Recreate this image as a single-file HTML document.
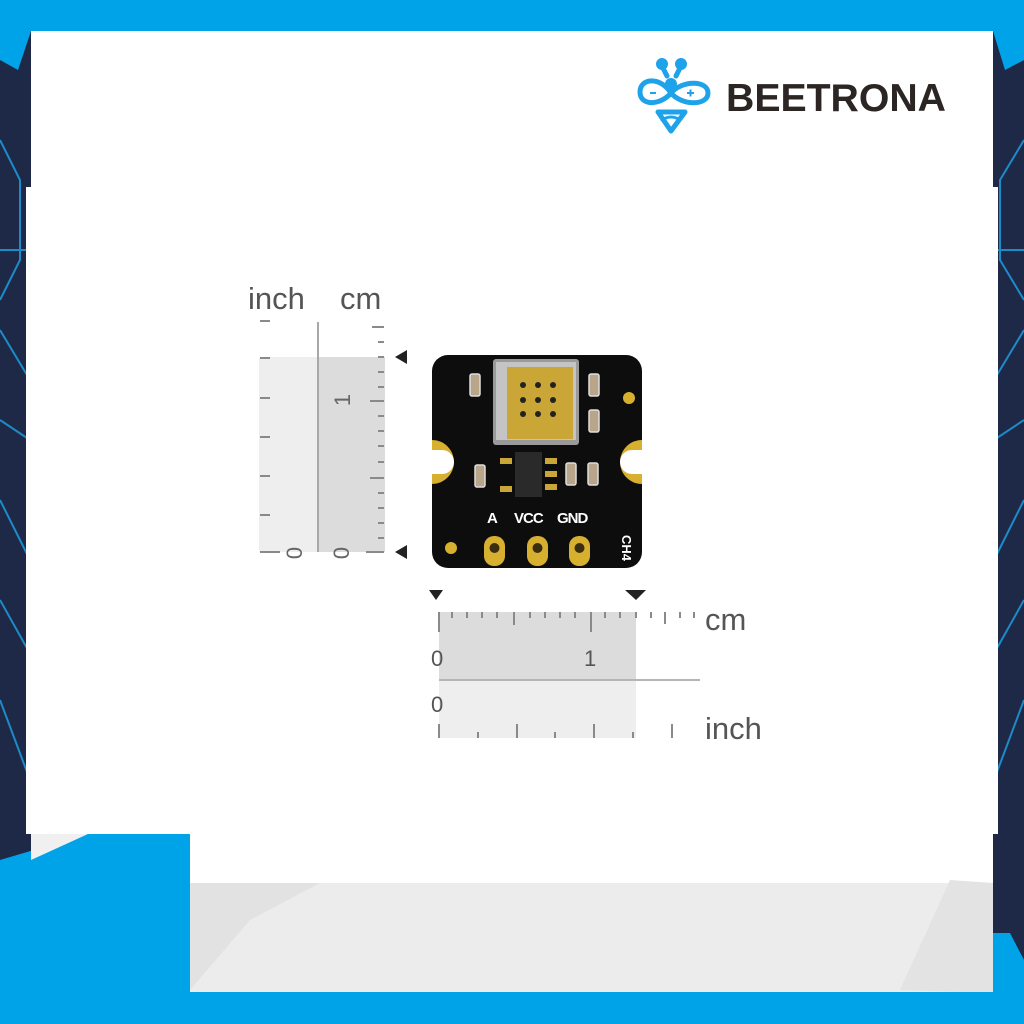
<!DOCTYPE html>
<html><head><meta charset="utf-8"><style>
html,body{margin:0;padding:0}
body{width:1024px;height:1024px;position:relative;overflow:hidden;background:#1d2946;font-family:"Liberation Sans",sans-serif}
.a{position:absolute}
</style></head><body>
<svg class="a" style="left:0;top:0" width="1024" height="1024">
 <g stroke="#1ea3ea" stroke-width="2" fill="none" opacity="0.8">
  <path d="M0 140 L20 180 L20 260 L0 300"/><path d="M0 330 L30 380 M0 420 L30 440 M0 500 L30 560 M0 600 L28 650 M0 700 L30 780 M0 250 L30 250"/>
  <path d="M1024 140 L1000 180 L1000 260 L1024 300"/><path d="M1024 330 L994 380 M1024 420 L994 440 M1024 500 L994 560 M1024 600 L996 650 M1024 700 L994 780 M994 250 L1024 250"/>
 </g>
 <rect x="0" y="0" width="1024" height="31" fill="#00a3e8"/>
 <path d="M0 0 L1024 0 L1024 60 L1005 70 L993 31 L31 31 L18 70 L0 60Z" fill="#00a3e8"/>
 <rect x="31" y="31" width="962" height="803" fill="#fff"/>
 <rect x="26" y="187" width="972" height="647" fill="#fff"/>
 <rect x="190" y="834" width="803" height="49" fill="#fff"/>
 <rect x="190" y="883" width="803" height="110" fill="#ececec"/>
 <path d="M190 883 L320 883 L250 920 L190 990Z" fill="#e2e2e2"/>
 <path d="M900 990 L950 880 L993 883 L993 993Z" fill="#e3e3e3"/>
 <path d="M0 860 L88 834 L190 834 L190 1024 L0 1024Z" fill="#00a3e8"/>
 <path d="M31 834 L88 834 L31 860Z" fill="#f0f0f0"/>
 <rect x="0" y="992" width="1024" height="32" fill="#00a3e8"/>
 <path d="M993 933 L1010 933 L1024 960 L1024 1024 L993 1024Z" fill="#00a3e8"/>

 <!-- logo -->
 <g stroke="#1ea3ea" stroke-width="5" fill="none" stroke-linecap="round">
  <circle cx="662" cy="64" r="3.5" fill="#1ea3ea"/><circle cx="681" cy="64" r="3.5" fill="#1ea3ea"/>
  <path d="M662 66 L667 76 M681 66 L676 76"/>
  <path d="M671 93 C660 76 640 78 640 92 C640 106 660 106 671 93 C682 80 708 80 708 93 C708 106 682 106 671 93" />
  <path d="M658 112 L685 112 L671 131Z" stroke-linejoin="round"/>
  <path d="M662 120 Q671 114 680 120" stroke-width="3"/>
 </g>
 <circle cx="671" cy="84" r="6" fill="#1ea3ea"/>
 <path d="M650 93 h6 M687 93 h7 M690.5 89.5 v7" stroke="#1ea3ea" stroke-width="2"/>
 <text x="726" y="111" font-size="39" font-weight="bold" fill="#2b2523" font-family="Liberation Sans" textLength="220" lengthAdjust="spacingAndGlyphs">BEETRONA</text>

 <!-- left ruler -->
 <rect x="259" y="357" width="59" height="195" fill="#eeeeee"/>
 <rect x="318" y="357" width="67" height="195" fill="#dcdcdc"/>
 <rect x="317" y="322" width="2" height="230" fill="#a8a8a8"/>
 <g stroke="#8a8a8a" stroke-width="2">
  <path d="M260 321h10 M260 358h10 M260 398h10 M260 437h10 M260 476h10 M260 515h10 M260 552h20"/>
  <path d="M372 327h12 M378 342h6 M378 357h6 M378 372h6 M378 387h6 M370 401h14 M378 416h6 M378 431h6 M378 446h6 M378 462h6 M370 478h14 M378 493h6 M378 508h6 M378 523h6 M378 538h6 M366 552h18"/>
 </g>
 <text x="248" y="309" font-size="31" fill="#555">inch</text>
 <text x="340" y="309" font-size="31" fill="#555">cm</text>
 <text x="294" y="553" font-size="22" fill="#666" transform="rotate(-90 294 553)" text-anchor="middle" dy="8">0</text>
 <text x="341" y="553" font-size="22" fill="#666" transform="rotate(-90 341 553)" text-anchor="middle" dy="8">0</text>
 <text x="342" y="400" font-size="22" fill="#666" transform="rotate(-90 342 400)" text-anchor="middle" dy="8">1</text>
 <path d="M395 357 L407 350 L407 364Z M395 552 L407 545 L407 559Z" fill="#222"/>

 <!-- bottom ruler -->
 <rect x="439" y="612" width="197" height="68" fill="#dcdcdc"/>
 <rect x="439" y="680" width="197" height="58" fill="#eeeeee"/>
 <rect x="439" y="679" width="261" height="2" fill="#b5b5b5"/>
 <g stroke="#8a8a8a" stroke-width="2">
  <path d="M439 612v20 M452 612v6 M467 612v6 M482 612v6 M497 612v6 M514 612v13 M530 612v6 M545 612v6 M560 612v6 M575 612v6 M591 612v20 M605 612v6 M620 612v6 M636 612v6 M651 612v6 M665 612v12 M680 612v6 M694 612v6"/>
  <path d="M439 724v14 M478 732v6 M517 724v14 M555 732v6 M594 724v14 M633 732v6 M672 724v14"/>
 </g>
 <path d="M429 590 L443 590 L436 600Z M625 590 L646 590 L636 600Z" fill="#222"/>
 <text x="705" y="630" font-size="31" fill="#555">cm</text>
 <text x="705" y="739" font-size="31" fill="#555">inch</text>
 <text x="431" y="666" font-size="22" fill="#555">0</text>
 <text x="584" y="666" font-size="22" fill="#555">1</text>
 <text x="431" y="712" font-size="22" fill="#555">0</text>

 <!-- PCB -->
 <rect x="432" y="355" width="210" height="213" rx="16" fill="#0d0d0d"/>
 <path d="M432 440 a22 22 0 0 1 0 44Z" fill="#d8b030"/>
 <path d="M442 450 a12 12 0 0 1 0 24 L432 474 L432 450Z" fill="#fff"/>
 <path d="M642 440 a22 22 0 0 0 0 44Z" fill="#d8b030"/>
 <path d="M632 450 a12 12 0 0 0 0 24 L642 474 L642 450Z" fill="#fff"/>
 <rect x="493" y="359" width="86" height="86" rx="3" fill="#9a9a9a"/>
 <rect x="496" y="362" width="80" height="78" fill="#c4c4c4"/>
 <rect x="507" y="367" width="66" height="72" fill="#c9a636"/>
 <g fill="#222"><circle cx="523" cy="385" r="3"/><circle cx="538" cy="385" r="3"/><circle cx="553" cy="385" r="3"/><circle cx="523" cy="400" r="3"/><circle cx="538" cy="400" r="3"/><circle cx="553" cy="400" r="3"/><circle cx="523" cy="414" r="3"/><circle cx="538" cy="414" r="3"/><circle cx="553" cy="414" r="3"/></g>
 <g fill="#b9a58a" stroke="#ddd" stroke-width="1.5"><rect x="470" y="374" width="10" height="22" rx="2"/><rect x="589" y="374" width="10" height="22" rx="2"/><rect x="589" y="410" width="10" height="22" rx="2"/><rect x="475" y="465" width="10" height="22" rx="2"/><rect x="566" y="463" width="10" height="22" rx="2"/><rect x="588" y="463" width="10" height="22" rx="2"/></g>
 <rect x="515" y="452" width="27" height="45" fill="#2a2a2a"/>
 <g fill="#c9a636"><rect x="500" y="458" width="12" height="6"/><rect x="500" y="486" width="12" height="6"/><rect x="545" y="458" width="12" height="6"/><rect x="545" y="471" width="12" height="6"/><rect x="545" y="484" width="12" height="6"/></g>
 <circle cx="629" cy="398" r="6" fill="#d8b030"/>
 <circle cx="451" cy="548" r="6" fill="#d8b030"/>
 <text x="487" y="523" font-size="15" font-weight="bold" fill="#fff">A</text>
 <text x="514" y="523" font-size="15" font-weight="bold" fill="#fff" letter-spacing="-1">VCC</text>
 <text x="557" y="523" font-size="15" font-weight="bold" fill="#fff" letter-spacing="-1">GND</text>
 <text x="622" y="548" font-size="13" font-weight="bold" fill="#fff" transform="rotate(90 622 548)" text-anchor="middle">CH4</text>
 <g fill="#d8b030"><rect x="484" y="536" width="21" height="30" rx="10"/><rect x="527" y="536" width="21" height="30" rx="10"/><rect x="569" y="536" width="21" height="30" rx="10"/></g>
 <g fill="#3a2d10"><circle cx="494.5" cy="548" r="5"/><circle cx="537.5" cy="548" r="5"/><circle cx="579.5" cy="548" r="5"/></g>
</svg>
</body></html>
